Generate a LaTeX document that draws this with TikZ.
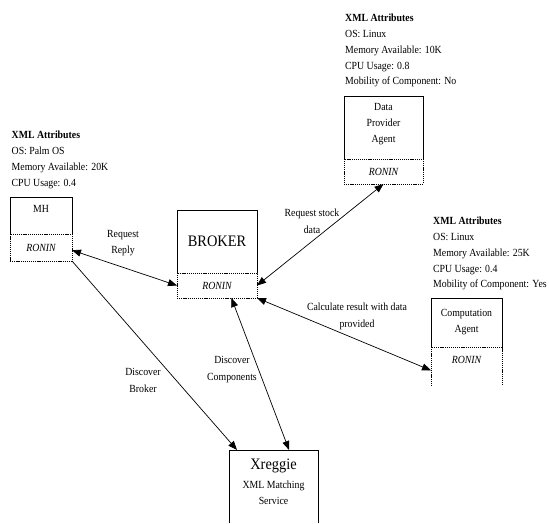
\documentclass[tikz,border=0pt]{standalone}
\usepackage{fontspec}
\setmainfont{Liberation Serif}[FakeStretch=0.9]
\usetikzlibrary{arrows.meta,calc}
\begin{document}
\begin{tikzpicture}[x=1pt,y=-1pt,
  part/.style={rectangle,inner sep=0pt,outer sep=0pt,draw=none},
  dbox/.style={rectangle,inner sep=0pt,outer sep=0pt,draw,line width=0.9pt,dash pattern=on 1.2pt off 0.9pt},
  dsh/.style={line width=0.9pt,dash pattern=on 1.2pt off 0.9pt},
  edge/.style={line width=0.6pt},
  attr/.style={anchor=north west,inner sep=0pt,align=left,font=\fontsize{10.9}{15.7}\selectfont},
  lbl/.style={anchor=north,inner sep=0pt,align=center,font=\fontsize{10.9}{16.4}\selectfont},
  intxt/.style={anchor=north,inner sep=0pt,align=center,font=\fontsize{10.9}{16}\selectfont},
  ronin/.style={inner sep=0pt,font=\fontsize{10.9}{12}\selectfont\itshape},
  bigtxt/.style={inner sep=0pt,font=\fontsize{16}{18}\selectfont},
  dblarr/.style={line width=0.7pt,{Triangle[length=9pt,width=7pt]}-{Triangle[length=9pt,width=7pt]}},
  onearr/.style={line width=0.7pt,-{Triangle[length=9pt,width=7pt]}}
]
\useasboundingbox (0,0) rectangle (549,523);

% ---------- MH ----------
\node[attr] (mhattr) at (11.5,131.2) {\textbf{XML Attributes}\\OS: Palm OS\\Memory Available: 20K\\CPU Usage: 0.4};
\node[part,minimum width=62pt,minimum height=37pt] (mh) at (41,215.5) {};
\draw[edge] (mh.south west) |- (mh.north east) -- (mh.south east);
\node[dbox,minimum width=62pt,minimum height=27pt] (mhr) at (41,247.5) {};
\node[intxt] (mhtxt) at (41,205.2) {MH};
\node[ronin] (mhrt) at (mhr.center) {RONIN};

% ---------- BROKER ----------
\node[part,minimum width=80pt,minimum height=63pt] (br) at (217,241.5) {};
\draw[edge] (br.south west) |- (br.north east) -- (br.south east);
\node[dbox,minimum width=80pt,minimum height=25pt] (brr) at (217,285.5) {};
\node[bigtxt] (brtxt) at (br.center) {BROKER};
\node[ronin] (brrt) at (brr.center) {RONIN};

% ---------- Data Provider Agent ----------
\node[attr] (dpattr) at (345,14.2) {\textbf{XML Attributes}\\OS: Linux\\Memory Available: 10K\\CPU Usage: 0.8\\Mobility of Component: No};
\node[part,minimum width=79pt,minimum height=63pt] (dp) at (383.5,127.5) {};
\draw[edge] (dp.south west) |- (dp.north east) -- (dp.south east);
\node[dbox,minimum width=79pt,minimum height=25pt] (dpr) at (383.5,171.5) {};
\node[intxt] (dptxt) at (383.5,103.2) {Data\\Provider\\Agent};
\node[ronin] (dprt) at (dpr.center) {RONIN};

% ---------- Computation Agent ----------
\node[attr] (cmattr) at (433,217.2) {\textbf{XML Attributes}\\OS: Linux\\Memory Available: 25K\\CPU Usage: 0.4\\Mobility of Component: Yes};
\node[part,minimum width=71pt,minimum height=49pt] (cm) at (466.5,322.5) {};
\draw[edge] (cm.south west) |- (cm.north east) -- (cm.south east);
\node[part,minimum width=71pt,minimum height=39pt] (cmr) at (466.5,366.5) {};
\draw[dsh] (cmr.south west) |- (cmr.north east) -- (cmr.south east);
\node[intxt] (cmtxt) at (466.5,309.2) {Computation\\Agent};
\node[ronin] (cmrt) at (466.5,360) {RONIN};

% ---------- Xreggie ----------
\node[part,minimum width=89pt,minimum height=73pt] (xr) at (273.5,486.5) {};
\draw[edge] (xr.south west) |- (xr.north east) -- (xr.south east);
\node[bigtxt,anchor=north] (xrtxt) at (273.5,458.4) {Xreggie};
\node[intxt] (xrsub) at (273.5,481.2) {XML Matching\\Service};

% ---------- connectors ----------
\draw[dblarr] ($(mhr.north east)!0.6!(mhr.south east)$) -- (brr.west);
\draw[dblarr] (dpr.south) -- (brr.east);
\draw[dblarr] (brr.south east) -- ($(cmr.north west)!0.6!(cmr.south west)$);
\draw[onearr] (mhr.south east) -- ($(xr.north west)!0.09!(xr.north east)$);
\draw[dblarr] ($(brr.south west)!0.68!(brr.south east)$) -- ($(xr.north west)!0.675!(xr.north east)$);

% ---------- labels ----------
\node[lbl] (l1) at (123,230.2) {Request\\Reply};
\node[lbl] (l2) at (312,209.2) {Request stock\\data};
\node[lbl] (l3) at (357,303.2) {Calculate result with data\\provided};
\node[lbl] (l4) at (143,368.2) {Discover\\Broker};
\node[lbl] (l5) at (232,356.2) {Discover\\Components};
\end{tikzpicture}
\end{document}
